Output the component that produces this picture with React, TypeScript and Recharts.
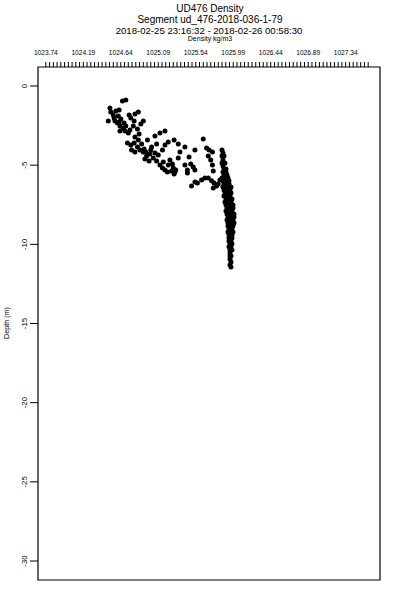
import React from "react";
import { ScatterChart, Scatter, XAxis, YAxis, ReferenceArea } from "recharts";

// ---- tick labels ----
const densityMajorTicks = [1023.74, 1024.19, 1024.64, 1025.09, 1025.54, 1025.99, 1026.44, 1026.89, 1027.34];
const depthTicks = [0, -5, -10, -15, -20, -25, -30];
const titleLines = ["UD476 Density", "Segment ud_476-2018-036-1-79", "2018-02-25 23:16:32 - 2018-02-26 00:58:30"];
const xAxisTitle = "Density kg/m3";
const yAxisTitle = "Depth (m)";

// ---- data: [density kg/m3, depth m] ----
const upperCluster: [number, number][] = [
  [1024.66, -0.95], [1024.70, -0.88], [1024.51, -1.39], [1024.52, -1.64], [1024.58, -1.58],
  [1024.62, -1.52], [1024.55, -1.83], [1024.61, -1.89], [1024.64, -2.08], [1024.49, -2.21],
  [1024.60, -2.34], [1024.63, -2.53], [1024.67, -2.65], [1024.68, -2.34], [1024.74, -1.83],
  [1024.81, -1.77], [1024.85, -1.64], [1024.76, -2.02], [1024.80, -2.21], [1024.69, -2.84],
  [1024.63, -2.84], [1024.73, -2.97], [1024.79, -2.53], [1024.84, -2.71], [1024.88, -2.40],
  [1024.91, -2.21], [1024.86, -3.03], [1024.81, -3.22], [1024.56, -2.02], [1024.57, -2.21],
  [1024.62, -2.27], [1024.70, -2.53], [1024.75, -2.78],
];
const band: [number, number][] = [
  [1024.72, -3.60], [1024.76, -3.72], [1024.80, -3.60], [1024.84, -3.85], [1024.87, -4.04],
  [1024.77, -4.04], [1024.81, -4.17], [1024.89, -3.66], [1024.92, -3.98], [1024.94, -4.17],
  [1024.95, -4.42], [1024.99, -4.29], [1025.03, -4.55], [1025.05, -4.23], [1024.93, -4.61],
  [1024.98, -4.73], [1025.07, -4.73], [1025.11, -4.99], [1025.14, -5.18], [1025.17, -5.30],
  [1025.21, -4.99], [1025.23, -4.67], [1025.26, -4.92], [1025.27, -5.18], [1025.29, -5.43],
  [1025.30, -5.30], [1025.25, -5.37], [1025.20, -5.43], [1025.09, -4.36], [1025.14, -4.04],
  [1025.17, -3.72], [1025.21, -3.54], [1025.28, -3.41], [1025.33, -3.66], [1025.07, -3.66],
  [1025.01, -3.85], [1024.96, -3.41], [1025.05, -3.16], [1025.11, -2.97], [1025.17, -2.84],
  [1024.85, -3.41], [1024.91, -4.17], [1025.00, -4.04], [1025.28, -5.56], [1025.15, -4.80],
];
const middle: [number, number][] = [
  [1025.63, -3.35], [1025.67, -3.91], [1025.70, -4.04], [1025.74, -4.17], [1025.69, -4.42],
  [1025.72, -4.67], [1025.74, -4.99], [1025.75, -5.37], [1025.53, -4.04], [1025.41, -3.85],
  [1025.46, -4.48], [1025.48, -4.92], [1025.51, -5.11], [1025.44, -5.30], [1025.53, -5.30],
  [1025.35, -4.17], [1025.33, -4.55], [1025.41, -4.99], [1025.44, -5.49],
];
const arm: [number, number][] = [
  [1025.49, -6.31], [1025.56, -6.12], [1025.61, -5.93], [1025.65, -5.81], [1025.69, -5.81],
  [1025.73, -5.99], [1025.76, -6.12], [1025.79, -6.31], [1025.83, -5.93], [1025.75, -6.44],
  [1025.53, -6.06], [1025.81, -6.19],
];
const column: [number, number][] = [
  [1025.855, -4.04], [1025.867, -4.23], [1025.855, -4.42], [1025.879, -4.42], [1025.867, -4.67],
  [1025.855, -4.86], [1025.891, -4.86], [1025.867, -5.05], [1025.879, -5.24], [1025.903, -5.24],
  [1025.867, -5.43], [1025.903, -5.43], [1025.879, -5.62], [1025.915, -5.62], [1025.855, -5.81],
  [1025.891, -5.81], [1025.927, -5.81], [1025.867, -5.99], [1025.903, -5.99], [1025.939, -5.99],
  [1025.879, -6.19], [1025.915, -6.19], [1025.939, -6.19], [1025.867, -6.38], [1025.903, -6.38],
  [1025.939, -6.38], [1025.963, -6.38], [1025.879, -6.57], [1025.915, -6.57], [1025.951, -6.57],
  [1025.891, -6.76], [1025.927, -6.76], [1025.963, -6.76], [1025.879, -6.94], [1025.915, -6.94],
  [1025.951, -6.94], [1025.903, -7.13], [1025.939, -7.13], [1025.975, -7.13], [1025.891, -7.32],
  [1025.927, -7.32], [1025.963, -7.32], [1025.903, -7.51], [1025.939, -7.51], [1025.987, -7.51],
  [1025.915, -7.70], [1025.951, -7.70], [1025.987, -7.70], [1025.903, -7.89], [1025.939, -7.89],
  [1025.975, -7.89], [1025.915, -8.08], [1025.951, -8.08], [1025.999, -8.08], [1025.927, -8.27],
  [1025.963, -8.27], [1025.999, -8.27], [1025.915, -8.46], [1025.951, -8.46], [1025.987, -8.46],
  [1025.927, -8.65], [1025.963, -8.65], [1025.999, -8.65], [1025.927, -8.84], [1025.963, -8.84],
  [1025.987, -8.84], [1025.939, -9.03], [1025.975, -9.03], [1025.927, -9.22], [1025.963, -9.22],
  [1025.987, -9.22], [1025.939, -9.41], [1025.975, -9.41], [1025.939, -9.60], [1025.975, -9.60],
  [1025.939, -9.79], [1025.963, -9.79], [1025.951, -9.97], [1025.975, -9.97], [1025.939, -10.16],
  [1025.963, -10.16], [1025.951, -10.35], [1025.975, -10.35], [1025.951, -10.54], [1025.951, -10.73],
  [1025.963, -10.73], [1025.951, -10.92], [1025.963, -11.11], [1025.951, -11.30], [1025.963, -11.43],
];

const allPoints = [...upperCluster, ...band, ...middle, ...arm, ...column].map(([x, y]) => ({ x, y }));

// minor ticks on the top axis, 10 per labelled interval
const minorStep = 0.045;
const minorTicks: number[] = [];
for (let i = 0; i <= 86; i++) minorTicks.push(Math.round((densityMajorTicks[0] + i * minorStep) * 1000) / 1000);

const FONT = "'Liberation Sans', Arial, sans-serif";

const TopTick = (props: any) => {
  const { x, y, index, payload } = props;
  if (index % 10 !== 0) return null;
  return (
    <text x={x} y={y - 5} textAnchor="middle" fontSize={6.6} fontFamily={FONT} fill="#000">
      {Number(payload.value).toFixed(2)}
    </text>
  );
};

const LeftTick = (props: any) => {
  const { x, y, payload } = props;
  const tx = x - 1;
  return (
    <text
      x={tx}
      y={y}
      textAnchor="middle"
      fontSize={7.8}
      fontFamily={FONT}
      fill="#000"
      transform={`rotate(-90, ${tx}, ${y})`}
    >
      {String(payload.value)}
    </text>
  );
};

const Dot = (props: any) => {
  const { cx, cy } = props;
  return <circle cx={cx} cy={cy} r={2.5} fill="#000" />;
};

const X_DOMAIN: [number, number] = [1023.646, 1027.752];
const Y_DOMAIN: [number, number] = [-31.2, 1.2];

export default function App() {
  return (
    <div style={{ position: "absolute", left: 0, top: 0, width: 400, height: 600, background: "#fff" }}>
      <ScatterChart width={400} height={600} margin={{ top: 0, right: 20, bottom: 20, left: 0 }}>
        <XAxis
          type="number"
          dataKey="x"
          orientation="top"
          domain={X_DOMAIN}
          allowDataOverflow
          ticks={minorTicks}
          interval={0}
          height={67}
          axisLine={false}
          tickLine={{ stroke: "#000", strokeWidth: 1 }}
          tickSize={5}
          tickMargin={2}
          tick={<TopTick />}
        />
        <YAxis
          type="number"
          dataKey="y"
          domain={Y_DOMAIN}
          allowDataOverflow
          ticks={depthTicks}
          interval={0}
          width={38}
          axisLine={false}
          tickLine={{ stroke: "#000", strokeWidth: 1 }}
          tickSize={8}
          tickMargin={2}
          tick={<LeftTick />}
        />
        <ReferenceArea
          x1={X_DOMAIN[0]}
          x2={X_DOMAIN[1]}
          y1={Y_DOMAIN[0]}
          y2={Y_DOMAIN[1]}
          fill="none"
          stroke="#000"
          strokeWidth={1.2}
          ifOverflow="visible"
        />
        <Scatter data={allPoints} shape={<Dot />} isAnimationActive={false} />
      </ScatterChart>
      <svg width={400} height={600} style={{ position: "absolute", left: 0, top: 0, pointerEvents: "none" }}>
        <text x={210} y={12} textAnchor="middle" fontSize={10} fontFamily={FONT}>{titleLines[0]}</text>
        <text x={210} y={23} textAnchor="middle" fontSize={10} fontFamily={FONT}>{titleLines[1]}</text>
        <text x={209} y={34} textAnchor="middle" fontSize={9.6} fontFamily={FONT}>{titleLines[2]}</text>
        <text x={210} y={41} textAnchor="middle" fontSize={7} fontFamily={FONT}>{xAxisTitle}</text>
        <text x={9} y={323} textAnchor="middle" fontSize={7.2} fontFamily={FONT} transform="rotate(-90, 9, 323)">
          {yAxisTitle}
        </text>
      </svg>
    </div>
  );
}
